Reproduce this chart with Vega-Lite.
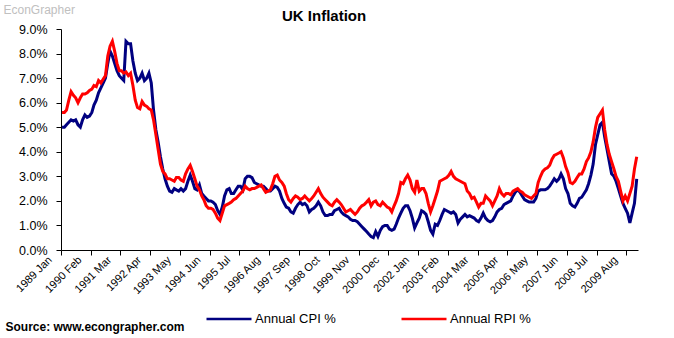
{
"$schema": "https://vega.github.io/schema/vega-lite/v6.json",
"width": 577, "height": 221,
"autosize": {"type": "none"},
"padding": {"left": 61, "top": 29, "right": 36, "bottom": 88},
"background": "white",
"config": {"view": {"stroke": null}, "font": "Liberation Sans"},
"title": {"text": "UK Inflation", "fontSize": 15, "fontWeight": "bold", "font": "Liberation Sans", "anchor": "start", "dx": 279, "offset": 0, "baseline": "alphabetic", "dy": 33, "color": "black"},
"data": {"values": [
{"m":"1989-01-15","cpi":5.0,"rpi":5.6},{"m":"1989-02-15","cpi":5.0,"rpi":5.6},{"m":"1989-03-15","cpi":5.1,"rpi":5.7},{"m":"1989-04-15","cpi":5.2,"rpi":6.1},{"m":"1989-05-15","cpi":5.3,"rpi":6.45},{"m":"1989-06-15","cpi":5.25,"rpi":6.3},{"m":"1989-07-15","cpi":5.3,"rpi":6.2},{"m":"1989-08-15","cpi":5.1,"rpi":6.0},{"m":"1989-09-15","cpi":5.0,"rpi":6.2},{"m":"1989-10-15","cpi":5.3,"rpi":6.35},{"m":"1989-11-15","cpi":5.5,"rpi":6.35},{"m":"1989-12-15","cpi":5.4,"rpi":6.4},
{"m":"1990-01-15","cpi":5.45,"rpi":6.5},{"m":"1990-02-15","cpi":5.6,"rpi":6.55},{"m":"1990-03-15","cpi":5.9,"rpi":6.7},{"m":"1990-04-15","cpi":6.1,"rpi":6.65},{"m":"1990-05-15","cpi":6.4,"rpi":6.9},{"m":"1990-06-15","cpi":6.6,"rpi":6.8},{"m":"1990-07-15","cpi":6.8,"rpi":6.95},{"m":"1990-08-15","cpi":7.0,"rpi":7.1},{"m":"1990-09-15","cpi":7.6,"rpi":7.9},{"m":"1990-10-15","cpi":8.1,"rpi":8.3},{"m":"1990-11-15","cpi":7.9,"rpi":8.5},{"m":"1990-12-15","cpi":7.6,"rpi":8.1},
{"m":"1991-01-15","cpi":7.3,"rpi":7.6},{"m":"1991-02-15","cpi":7.1,"rpi":7.3},{"m":"1991-03-15","cpi":7.0,"rpi":7.3},{"m":"1991-04-15","cpi":6.9,"rpi":7.2},{"m":"1991-05-15","cpi":8.5,"rpi":7.25},{"m":"1991-06-15","cpi":8.4,"rpi":7.1},{"m":"1991-07-15","cpi":8.4,"rpi":7.2},{"m":"1991-08-15","cpi":7.7,"rpi":6.7},{"m":"1991-09-15","cpi":7.2,"rpi":6.1},{"m":"1991-10-15","cpi":6.9,"rpi":5.8},{"m":"1991-11-15","cpi":7.0,"rpi":5.75},{"m":"1991-12-15","cpi":7.2,"rpi":6.05},
{"m":"1992-01-15","cpi":6.9,"rpi":5.9},{"m":"1992-02-15","cpi":7.0,"rpi":5.85},{"m":"1992-03-15","cpi":7.2,"rpi":5.75},{"m":"1992-04-15","cpi":6.8,"rpi":5.7},{"m":"1992-05-15","cpi":5.7,"rpi":5.3},{"m":"1992-06-15","cpi":4.9,"rpi":4.7},{"m":"1992-07-15","cpi":4.4,"rpi":4.1},{"m":"1992-08-15","cpi":3.8,"rpi":3.5},{"m":"1992-09-15","cpi":3.3,"rpi":3.2},{"m":"1992-10-15","cpi":2.9,"rpi":3.1},{"m":"1992-11-15","cpi":2.6,"rpi":2.9},{"m":"1992-12-15","cpi":2.4,"rpi":2.9},
{"m":"1993-01-15","cpi":2.35,"rpi":2.85},{"m":"1993-02-15","cpi":2.5,"rpi":2.8},{"m":"1993-03-15","cpi":2.45,"rpi":2.95},{"m":"1993-04-15","cpi":2.4,"rpi":2.95},{"m":"1993-05-15","cpi":2.5,"rpi":2.85},{"m":"1993-06-15","cpi":2.4,"rpi":2.8},{"m":"1993-07-15","cpi":2.5,"rpi":3.1},{"m":"1993-08-15","cpi":2.8,"rpi":3.3},{"m":"1993-09-15","cpi":3.05,"rpi":3.45},{"m":"1993-10-15","cpi":2.8,"rpi":3.2},{"m":"1993-11-15","cpi":2.5,"rpi":2.9},{"m":"1993-12-15","cpi":2.45,"rpi":2.6},
{"m":"1994-01-15","cpi":2.65,"rpi":2.45},{"m":"1994-02-15","cpi":2.3,"rpi":2.2},{"m":"1994-03-15","cpi":2.2,"rpi":2.05},{"m":"1994-04-15","cpi":2.1,"rpi":1.8},{"m":"1994-05-15","cpi":2.0,"rpi":1.7},{"m":"1994-06-15","cpi":2.0,"rpi":1.7},{"m":"1994-07-15","cpi":1.95,"rpi":1.65},{"m":"1994-08-15","cpi":1.85,"rpi":1.5},{"m":"1994-09-15","cpi":1.6,"rpi":1.3},{"m":"1994-10-15","cpi":1.45,"rpi":1.2},{"m":"1994-11-15","cpi":1.75,"rpi":1.5},{"m":"1994-12-15","cpi":2.2,"rpi":1.8},
{"m":"1995-01-15","cpi":2.45,"rpi":1.85},{"m":"1995-02-15","cpi":2.5,"rpi":1.9},{"m":"1995-03-15","cpi":2.3,"rpi":1.95},{"m":"1995-04-15","cpi":2.3,"rpi":2.05},{"m":"1995-05-15","cpi":2.45,"rpi":2.1},{"m":"1995-06-15","cpi":2.6,"rpi":2.2},{"m":"1995-07-15","cpi":2.6,"rpi":2.3},{"m":"1995-08-15","cpi":2.45,"rpi":2.4},{"m":"1995-09-15","cpi":2.9,"rpi":2.6},{"m":"1995-10-15","cpi":3.0,"rpi":2.5},{"m":"1995-11-15","cpi":3.0,"rpi":2.45},{"m":"1995-12-15","cpi":2.95,"rpi":2.5},
{"m":"1996-01-15","cpi":2.75,"rpi":2.5},{"m":"1996-02-15","cpi":2.7,"rpi":2.55},{"m":"1996-03-15","cpi":2.65,"rpi":2.6},{"m":"1996-04-15","cpi":2.6,"rpi":2.65},{"m":"1996-05-15","cpi":2.6,"rpi":2.5},{"m":"1996-06-15","cpi":2.5,"rpi":2.35},{"m":"1996-07-15","cpi":2.4,"rpi":2.4},{"m":"1996-08-15","cpi":2.4,"rpi":2.45},{"m":"1996-09-15","cpi":2.5,"rpi":2.7},{"m":"1996-10-15","cpi":2.6,"rpi":3.0},{"m":"1996-11-15","cpi":2.55,"rpi":3.05},{"m":"1996-12-15","cpi":2.4,"rpi":2.85},
{"m":"1997-01-15","cpi":2.1,"rpi":2.75},{"m":"1997-02-15","cpi":1.9,"rpi":2.6},{"m":"1997-03-15","cpi":1.75,"rpi":2.3},{"m":"1997-04-15","cpi":1.7,"rpi":2.05},{"m":"1997-05-15","cpi":1.55,"rpi":1.95},{"m":"1997-06-15","cpi":1.5,"rpi":2.1},{"m":"1997-07-15","cpi":1.7,"rpi":2.2},{"m":"1997-08-15","cpi":1.85,"rpi":2.15},{"m":"1997-09-15","cpi":1.95,"rpi":2.05},{"m":"1997-10-15","cpi":1.85,"rpi":2.1},{"m":"1997-11-15","cpi":1.9,"rpi":2.2},{"m":"1997-12-15","cpi":1.8,"rpi":2.1},
{"m":"1998-01-15","cpi":1.55,"rpi":2.0},{"m":"1998-02-15","cpi":1.65,"rpi":2.1},{"m":"1998-03-15","cpi":1.7,"rpi":2.2},{"m":"1998-04-15","cpi":1.8,"rpi":2.35},{"m":"1998-05-15","cpi":1.95,"rpi":2.5},{"m":"1998-06-15","cpi":1.8,"rpi":2.3},{"m":"1998-07-15","cpi":1.55,"rpi":2.15},{"m":"1998-08-15","cpi":1.4,"rpi":2.05},{"m":"1998-09-15","cpi":1.4,"rpi":1.95},{"m":"1998-10-15","cpi":1.45,"rpi":1.85},{"m":"1998-11-15","cpi":1.45,"rpi":1.8},{"m":"1998-12-15","cpi":1.6,"rpi":1.95},
{"m":"1999-01-15","cpi":1.65,"rpi":2.05},{"m":"1999-02-15","cpi":1.7,"rpi":1.95},{"m":"1999-03-15","cpi":1.55,"rpi":1.85},{"m":"1999-04-15","cpi":1.45,"rpi":1.7},{"m":"1999-05-15","cpi":1.4,"rpi":1.55},{"m":"1999-06-15","cpi":1.35,"rpi":1.6},{"m":"1999-07-15","cpi":1.25,"rpi":1.65},{"m":"1999-08-15","cpi":1.2,"rpi":1.55},{"m":"1999-09-15","cpi":1.2,"rpi":1.45},{"m":"1999-10-15","cpi":1.15,"rpi":1.55},{"m":"1999-11-15","cpi":1.05,"rpi":1.7},{"m":"1999-12-15","cpi":0.95,"rpi":1.8},
{"m":"2000-01-15","cpi":0.85,"rpi":1.85},{"m":"2000-02-15","cpi":0.75,"rpi":1.95},{"m":"2000-03-15","cpi":0.65,"rpi":2.05},{"m":"2000-04-15","cpi":0.55,"rpi":1.8},{"m":"2000-05-15","cpi":0.5,"rpi":1.95},{"m":"2000-06-15","cpi":0.75,"rpi":2.0},{"m":"2000-07-15","cpi":0.55,"rpi":1.85},{"m":"2000-08-15","cpi":0.8,"rpi":1.8},{"m":"2000-09-15","cpi":0.95,"rpi":1.95},{"m":"2000-10-15","cpi":1.0,"rpi":1.85},{"m":"2000-11-15","cpi":1.0,"rpi":1.75},{"m":"2000-12-15","cpi":0.85,"rpi":1.7},
{"m":"2001-01-15","cpi":0.8,"rpi":1.55},{"m":"2001-02-15","cpi":0.85,"rpi":1.8},{"m":"2001-03-15","cpi":1.05,"rpi":2.0},{"m":"2001-04-15","cpi":1.3,"rpi":2.3},{"m":"2001-05-15","cpi":1.5,"rpi":2.75},{"m":"2001-06-15","cpi":1.7,"rpi":2.7},{"m":"2001-07-15","cpi":1.8,"rpi":2.9},{"m":"2001-08-15","cpi":1.8,"rpi":3.05},{"m":"2001-09-15","cpi":1.6,"rpi":2.85},{"m":"2001-10-15","cpi":1.3,"rpi":2.5},{"m":"2001-11-15","cpi":0.9,"rpi":2.35},{"m":"2001-12-15","cpi":1.1,"rpi":2.85},
{"m":"2002-01-15","cpi":1.3,"rpi":2.4},{"m":"2002-02-15","cpi":1.6,"rpi":2.5},{"m":"2002-03-15","cpi":1.55,"rpi":2.5},{"m":"2002-04-15","cpi":1.45,"rpi":2.3},{"m":"2002-05-15","cpi":1.15,"rpi":1.9},{"m":"2002-06-15","cpi":0.8,"rpi":1.55},{"m":"2002-07-15","cpi":0.65,"rpi":1.8},{"m":"2002-08-15","cpi":1.05,"rpi":2.1},{"m":"2002-09-15","cpi":1.0,"rpi":2.4},{"m":"2002-10-15","cpi":1.2,"rpi":2.8},{"m":"2002-11-15","cpi":1.45,"rpi":2.85},{"m":"2002-12-15","cpi":1.65,"rpi":2.9},
{"m":"2003-01-15","cpi":1.6,"rpi":2.95},{"m":"2003-02-15","cpi":1.55,"rpi":3.05},{"m":"2003-03-15","cpi":1.5,"rpi":3.2},{"m":"2003-04-15","cpi":1.55,"rpi":3.0},{"m":"2003-05-15","cpi":1.45,"rpi":2.9},{"m":"2003-06-15","cpi":1.1,"rpi":2.85},{"m":"2003-07-15","cpi":1.25,"rpi":2.8},{"m":"2003-08-15","cpi":1.35,"rpi":2.75},{"m":"2003-09-15","cpi":1.45,"rpi":2.7},{"m":"2003-10-15","cpi":1.35,"rpi":2.4},{"m":"2003-11-15","cpi":1.4,"rpi":2.3},{"m":"2003-12-15","cpi":1.35,"rpi":2.1},
{"m":"2004-01-15","cpi":1.3,"rpi":2.15},{"m":"2004-02-15","cpi":1.2,"rpi":1.95},{"m":"2004-03-15","cpi":1.15,"rpi":1.75},{"m":"2004-04-15","cpi":1.3,"rpi":1.9},{"m":"2004-05-15","cpi":1.5,"rpi":1.9},{"m":"2004-06-15","cpi":1.3,"rpi":2.2},{"m":"2004-07-15","cpi":1.2,"rpi":2.1},{"m":"2004-08-15","cpi":1.15,"rpi":2.0},{"m":"2004-09-15","cpi":1.2,"rpi":1.8},{"m":"2004-10-15","cpi":1.35,"rpi":2.0},{"m":"2004-11-15","cpi":1.55,"rpi":2.2},{"m":"2004-12-15","cpi":1.65,"rpi":2.5},
{"m":"2005-01-15","cpi":1.7,"rpi":2.3},{"m":"2005-02-15","cpi":1.85,"rpi":2.2},{"m":"2005-03-15","cpi":1.9,"rpi":2.3},{"m":"2005-04-15","cpi":1.95,"rpi":2.3},{"m":"2005-05-15","cpi":2.0,"rpi":2.25},{"m":"2005-06-15","cpi":2.2,"rpi":2.4},{"m":"2005-07-15","cpi":2.35,"rpi":2.45},{"m":"2005-08-15","cpi":2.45,"rpi":2.5},{"m":"2005-09-15","cpi":2.35,"rpi":2.4},{"m":"2005-10-15","cpi":2.2,"rpi":2.35},{"m":"2005-11-15","cpi":2.05,"rpi":2.25},{"m":"2005-12-15","cpi":2.0,"rpi":2.2},
{"m":"2006-01-15","cpi":1.95,"rpi":2.15},{"m":"2006-02-15","cpi":1.95,"rpi":2.1},{"m":"2006-03-15","cpi":1.95,"rpi":2.2},{"m":"2006-04-15","cpi":2.1,"rpi":2.3},{"m":"2006-05-15","cpi":2.4,"rpi":2.75},{"m":"2006-06-15","cpi":2.45,"rpi":3.0},{"m":"2006-07-15","cpi":2.45,"rpi":3.2},{"m":"2006-08-15","cpi":2.45,"rpi":3.3},{"m":"2006-09-15","cpi":2.5,"rpi":3.35},{"m":"2006-10-15","cpi":2.6,"rpi":3.45},{"m":"2006-11-15","cpi":2.75,"rpi":3.7},{"m":"2006-12-15","cpi":2.9,"rpi":3.85},
{"m":"2007-01-15","cpi":2.8,"rpi":3.9},{"m":"2007-02-15","cpi":2.9,"rpi":3.95},{"m":"2007-03-15","cpi":3.1,"rpi":4.0},{"m":"2007-04-15","cpi":2.9,"rpi":3.75},{"m":"2007-05-15","cpi":2.5,"rpi":3.4},{"m":"2007-06-15","cpi":2.3,"rpi":3.15},{"m":"2007-07-15","cpi":1.9,"rpi":2.75},{"m":"2007-08-15","cpi":1.8,"rpi":2.7},{"m":"2007-09-15","cpi":1.75,"rpi":2.8},{"m":"2007-10-15","cpi":1.9,"rpi":2.95},{"m":"2007-11-15","cpi":2.1,"rpi":3.1},{"m":"2007-12-15","cpi":2.15,"rpi":3.1},
{"m":"2008-01-15","cpi":2.3,"rpi":3.3},{"m":"2008-02-15","cpi":2.45,"rpi":3.6},{"m":"2008-03-15","cpi":2.7,"rpi":3.75},{"m":"2008-04-15","cpi":3.05,"rpi":4.0},{"m":"2008-05-15","cpi":3.5,"rpi":4.4},{"m":"2008-06-15","cpi":4.3,"rpi":5.0},{"m":"2008-07-15","cpi":4.7,"rpi":5.4},{"m":"2008-08-15","cpi":5.1,"rpi":5.55},{"m":"2008-09-15","cpi":5.2,"rpi":5.7},{"m":"2008-10-15","cpi":4.6,"rpi":4.9},{"m":"2008-11-15","cpi":4.1,"rpi":4.3},{"m":"2008-12-15","cpi":3.6,"rpi":3.9},
{"m":"2009-01-15","cpi":3.1,"rpi":3.6},{"m":"2009-02-15","cpi":3.0,"rpi":3.3},{"m":"2009-03-15","cpi":2.8,"rpi":3.0},{"m":"2009-04-15","cpi":2.5,"rpi":2.8},{"m":"2009-05-15","cpi":2.2,"rpi":2.4},{"m":"2009-06-15","cpi":1.9,"rpi":2.0},{"m":"2009-07-15","cpi":1.7,"rpi":2.2},{"m":"2009-08-15","cpi":1.5,"rpi":2.0},{"m":"2009-09-15","cpi":1.1,"rpi":2.3},{"m":"2009-10-15","cpi":1.5,"rpi":2.6},{"m":"2009-11-15","cpi":1.9,"rpi":3.3},{"m":"2009-12-15","cpi":2.9,"rpi":3.8}
]},
"transform": [{"fold": ["cpi", "rpi"], "as": ["series", "value"]}],
"mark": {"type": "line", "strokeWidth": 3},
"encoding": {
  "x": {"field": "m", "type": "temporal",
    "scale": {"type": "utc", "domain": [{"year": 1989, "month": 1, "date": 1, "utc": true}, {"year": 2010, "month": 1, "date": 1, "utc": true}]},
    "axis": {
      "values": [{"year":1989,"month":1,"date":1,"utc":true},{"year":1990,"month":2,"date":1,"utc":true},{"year":1991,"month":3,"date":1,"utc":true},{"year":1992,"month":4,"date":1,"utc":true},{"year":1993,"month":5,"date":1,"utc":true},{"year":1994,"month":6,"date":1,"utc":true},{"year":1995,"month":7,"date":1,"utc":true},{"year":1996,"month":8,"date":1,"utc":true},{"year":1997,"month":9,"date":1,"utc":true},{"year":1998,"month":10,"date":1,"utc":true},{"year":1999,"month":11,"date":1,"utc":true},{"year":2000,"month":12,"date":1,"utc":true},{"year":2002,"month":1,"date":1,"utc":true},{"year":2003,"month":2,"date":1,"utc":true},{"year":2004,"month":3,"date":1,"utc":true},{"year":2005,"month":4,"date":1,"utc":true},{"year":2006,"month":5,"date":1,"utc":true},{"year":2007,"month":6,"date":1,"utc":true},{"year":2008,"month":7,"date":1,"utc":true},{"year":2009,"month":8,"date":1,"utc":true}],
      "labelExpr": "utcFormat(datum.value, '%Y %b')",
      "labelAngle": -45, "labelAlign": "right", "labelBaseline": "middle",
      "labelFontSize": 11, "labelColor": "black", "labelPadding": 3, "labelOffset": -11,
      "labelOverlap": false, "labelBound": false, "labelFlush": false,
      "tickSize": 5, "tickColor": "black", "domainColor": "black", "grid": false,
      "title": "Source: www.econgrapher.com", "titleX": -56, "titleY": 80, "titleAlign": "left", "titleAnchor": "start",
      "titleBaseline": "alphabetic", "titleFontSize": 12, "titleFontWeight": "bold", "titleColor": "black"
    }},
  "y": {"field": "value", "type": "quantitative",
    "scale": {"domain": [0, 9], "nice": false},
    "axis": {
      "values": [0, 1, 2, 3, 4, 5, 6, 7, 8, 9],
      "labelExpr": "format(datum.value, '.1f') + '%'",
      "labelFontSize": 12.5, "labelColor": "black", "labelPadding": 9,
      "tickSize": 5, "tickColor": "black", "domainColor": "black", "grid": false,
      "title": "EconGrapher", "titleAngle": 0, "titleX": -58, "titleY": -16, "titleAlign": "left",
      "titleBaseline": "alphabetic", "titleFontSize": 12, "titleFontWeight": "normal", "titleColor": "#c0c0c0"
    }},
  "color": {"field": "series", "type": "nominal",
    "scale": {"domain": ["cpi", "rpi"], "range": ["#000080", "#ff0000"]},
    "legend": {"orient": "none", "legendX": 144, "legendY": 266, "direction": "horizontal", "title": null,
      "labelExpr": "datum.label == 'cpi' ? 'Annual CPI %' : 'Annual RPI %'",
      "symbolType": "stroke", "symbolSize": 2025, "symbolStrokeWidth": 2.5,
      "labelFontSize": 13, "labelColor": "black", "labelOffset": 2, "columnPadding": 60}
  }
}
}
